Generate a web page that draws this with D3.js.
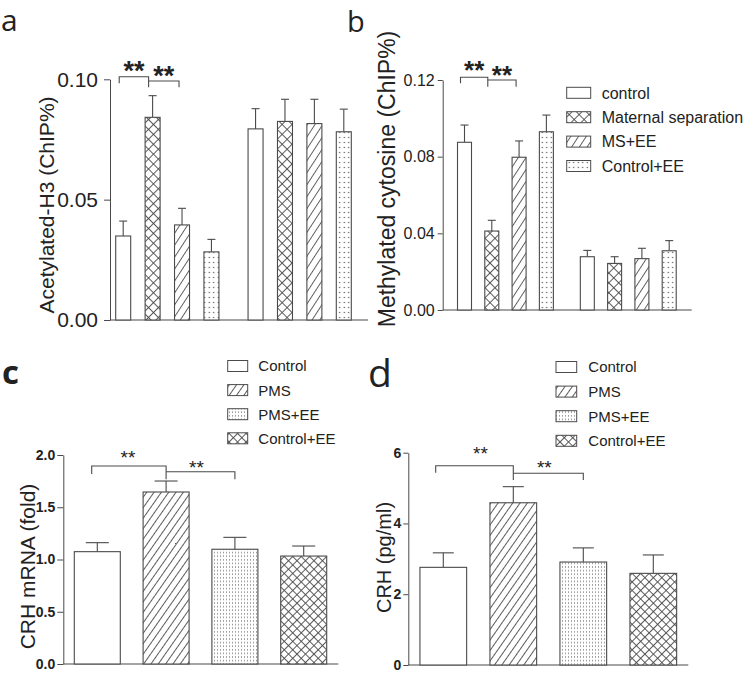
<!DOCTYPE html>
<html><head><meta charset="utf-8">
<script src="https://cdn.jsdelivr.net/npm/d3@7/dist/d3.min.js"></script>
<style>
html,body{margin:0;padding:0;background:#fff;}
svg text{font-family:"Liberation Sans",Arial,sans-serif;fill:#222;}
</style></head>
<body>
<script>
// ---------- DATA ----------
const groupsAB = ["control", "Maternal separation", "MS+EE", "Control+EE"];
const patternsAB = ["none", "cross", "hatch", "dots"];
const acetylMean = [0.0349, 0.0842, 0.0395, 0.0283, 0.0794, 0.0825, 0.0816, 0.0782];
const acetylErr  = [0.0062, 0.0090, 0.0069, 0.0052, 0.0084, 0.0092, 0.0101, 0.0094];
const methylMean = [0.0875, 0.0412, 0.0797, 0.0930, 0.0278, 0.0243, 0.0268, 0.0309];
const methylErr  = [0.0090, 0.0056, 0.0085, 0.0087, 0.0033, 0.0035, 0.0054, 0.0053];
const barSlotsAB = [0, 1, 2, 3, 4.5, 5.5, 6.5, 7.5];

const groupsCD = ["Control", "PMS", "PMS+EE", "Control+EE"];
const patternsCD = ["none", "hatch", "dots", "cross"];
const mrnaMean = [1.075, 1.646, 1.098, 1.033];
const mrnaErr  = [0.086, 0.105, 0.114, 0.096];
const crhMean  = [2.76, 4.585, 2.91, 2.59];
const crhErr   = [0.41, 0.455, 0.40, 0.52];
const barSlotsCD = [0, 1, 2, 3];

const ticksA = [0, 0.05, 0.10];
const ticksB = [0, 0.04, 0.08, 0.12];
const ticksC = [0, 0.5, 1.0, 1.5, 2.0];
const ticksD = [0, 2, 4, 6];

const sigLabel = "**";

// ---------- SVG ----------
const svg = d3.select("body").append("svg").attr("width", 748).attr("height", 677);
const defs = svg.append("defs");
const INK = "#4a4a4a";

function makePatterns(id, o) {
  const h = defs.append("pattern").attr("id", "hatch-" + id).attr("patternUnits", "userSpaceOnUse")
    .attr("width", o.hs).attr("height", 40).attr("patternTransform", `rotate(${o.ha})`);
  h.append("rect").attr("width", o.hs).attr("height", 40).attr("fill", "#fff");
  h.append("line").attr("x1", 0.5).attr("x2", 0.5).attr("y1", 0).attr("y2", 40)
    .attr("stroke", INK).attr("stroke-width", o.lw);
  const c = defs.append("pattern").attr("id", "cross-" + id).attr("patternUnits", "userSpaceOnUse")
    .attr("width", o.cs).attr("height", o.cs).attr("patternTransform", "rotate(45)");
  c.append("rect").attr("width", o.cs).attr("height", o.cs).attr("fill", "#fff");
  c.append("line").attr("x1", 0).attr("x2", o.cs).attr("y1", 0.5).attr("y2", 0.5).attr("stroke", INK).attr("stroke-width", o.lw);
  c.append("line").attr("x1", 0.5).attr("x2", 0.5).attr("y1", 0).attr("y2", o.cs).attr("stroke", INK).attr("stroke-width", o.lw);
  const d = defs.append("pattern").attr("id", "dots-" + id).attr("patternUnits", "userSpaceOnUse")
    .attr("width", o.dx).attr("height", o.dy);
  d.append("rect").attr("width", o.dx).attr("height", o.dy).attr("fill", "#fff");
  d.append("rect").attr("x", o.dx / 2 - o.dr / 2).attr("y", o.dy / 2 - o.dr / 2).attr("width", o.dr).attr("height", o.dr).attr("fill", "#555");
}
makePatterns("ab", {hs: 6.5, ha: 33, cs: 7, lw: 0.9, dx: 4.5, dy: 5, dr: 1.2});
makePatterns("cd", {hs: 6, ha: 35, cs: 6, lw: 0.9, dx: 3, dy: 3.6, dr: 1.0});

function fillFor(p, id) { return p === "none" ? "#fff" : `url(#${p}-${id})`; }

function drawPanel(o) {
  const g = svg.append("g");
  const y = d3.scaleLinear().domain(o.yDomain).range(o.yRange);
  const x = d3.scaleLinear().domain([0, d3.max(o.slots)]).range(o.xRange);

  const ax = g.append("g").attr("transform", `translate(${o.axisX},0)`)
    .call(d3.axisLeft(y).tickValues(o.ticks).tickFormat(d3.format(o.fmt)).tickSize(o.tickLen).tickSizeOuter(0).tickPadding(o.tickPad));
  ax.select(".domain").attr("stroke", INK).attr("stroke-width", 1);
  ax.selectAll(".tick line").attr("stroke", INK).attr("stroke-width", 1);
  ax.selectAll(".tick text").attr("font-size", o.tickFont).attr("font-weight", o.tickWeight)
    .attr("font-family", '"Liberation Sans",Arial,sans-serif').attr("fill", "#222");
  g.append("line").attr("x1", o.axisX).attr("x2", o.axisEnd).attr("y1", y(0)).attr("y2", y(0))
    .attr("stroke", INK).attr("stroke-width", 1.2);

  g.append("text").attr("transform", `translate(${o.labX},${o.labY}) rotate(-90)`)
    .attr("text-anchor", "middle").attr("font-size", o.labFont).text(o.yLabel);

  const bars = o.means.map((m, i) => ({m, e: o.errs[i], s: o.slots[i], p: o.patterns[i % o.patterns.length]}));
  bars.forEach(b => {
    const cx = x(b.s);
    g.append("line").attr("x1", cx).attr("x2", cx).attr("y1", y(b.m)).attr("y2", y(b.m + b.e))
      .attr("stroke", INK).attr("stroke-width", 1.1);
    g.append("line").attr("x1", cx - o.capW / 2).attr("x2", cx + o.capW / 2).attr("y1", y(b.m + b.e)).attr("y2", y(b.m + b.e))
      .attr("stroke", INK).attr("stroke-width", 1.1);
  });
  g.selectAll("rect.bar").data(bars).enter().append("rect").attr("class", "bar")
    .attr("x", d => x(d.s) - o.barW / 2).attr("width", o.barW)
    .attr("y", d => y(d.m)).attr("height", d => y(0) - y(d.m))
    .attr("fill", d => fillFor(d.p, o.pid)).attr("stroke", INK).attr("stroke-width", 1.1);

  const bk = o.bracket;
  const xa = x(o.slots[0]) + bk.off[0], xb = x(o.slots[1]) + bk.off[1], xc = x(o.slots[2]) + bk.off[2];
  g.append("path").attr("fill", "none").attr("stroke", INK).attr("stroke-width", 1.1)
    .attr("d", `M${xa},${bk.y1 + bk.drop1}V${bk.y1}H${xb}V${bk.y2 + bk.drop2}`);
  g.append("path").attr("fill", "none").attr("stroke", INK).attr("stroke-width", 1.1)
    .attr("d", `M${xb},${bk.y2}H${xc}V${bk.y2 + bk.drop2}`);
  g.append("text").attr("x", (xa + xb) / 2 + bk.s1dx).attr("y", bk.s1y).attr("text-anchor", "middle")
    .attr("font-size", bk.sFont).attr("font-weight", bk.sWeight).text(sigLabel);
  g.append("text").attr("x", (xb + xc) / 2 + bk.s2dx).attr("y", bk.s2y).attr("text-anchor", "middle")
    .attr("font-size", bk.sFont).attr("font-weight", bk.sWeight).text(sigLabel);

  if (o.legend) {
    const L = o.legend;
    o.groups.forEach((name, i) => {
      const cy = L.y0 + i * L.dy;
      g.append("rect").attr("x", L.x).attr("y", cy - L.bh / 2).attr("width", L.bw).attr("height", L.bh)
        .attr("fill", fillFor(o.patterns[i], o.pid)).attr("stroke", INK).attr("stroke-width", 1);
      g.append("text").attr("x", L.tx).attr("y", cy + L.font * 0.36).attr("font-size", L.font).text(name);
    });
  }
  g.append("text").attr("x", o.letter.x).attr("y", o.letter.y).attr("font-size", o.letter.size)
    .attr("font-weight", o.letter.w).style("font-family", '"Open Sans",sans-serif').attr("fill", "#111").text(o.letter.t);
}

// Panel a
drawPanel({
  pid: "ab", yDomain: [0, 0.10], yRange: [320, 79.3], xRange: [123.2, 343.8], slots: barSlotsAB,
  axisX: 110, axisEnd: 368, ticks: ticksA, fmt: ".2f", tickLen: 6, tickPad: 6, tickFont: 21, tickWeight: 400,
  yLabel: "Acetylated-H3 (ChIP%)", labX: 54, labY: 205, labFont: 21,
  means: acetylMean, errs: acetylErr, patterns: patternsAB, barW: 15, capW: 8,
  bracket: {off: [-4, -4, -3], y1: 76.7, y2: 81, drop1: 6.6, drop2: 6.3, s1y: 80, s2y: 85, s1dx: 0, s2dx: 0, sFont: 27, sWeight: 700},
  letter: {t: "a", x: 1, y: 31, size: 30, w: 400}
});
// Panel b
drawPanel({
  pid: "ab", yDomain: [0, 0.12], yRange: [310, 80], xRange: [464.5, 669.2], slots: barSlotsAB,
  axisX: 442.7, axisEnd: 691.7, ticks: ticksB, fmt: ".2f", tickLen: 5, tickPad: 3, tickFont: 16, tickWeight: 400,
  yLabel: "Methylated cytosine (ChIP%)", labX: 395, labY: 179, labFont: 23,
  means: methylMean, errs: methylErr, patterns: patternsAB, barW: 14, capW: 8,
  bracket: {off: [-4, -4, -3], y1: 77.3, y2: 80, drop1: 6, drop2: 6.7, s1y: 79, s2y: 84, s1dx: 0, s2dx: 0, sFont: 26, sWeight: 700},
  groups: groupsAB,
  legend: {x: 566.7, tx: 601.7, y0: 92.8, dy: 24.4, bw: 24, bh: 11, font: 16},
  letter: {t: "b", x: 347, y: 32, size: 29, w: 400}
});
// Panel c
drawPanel({
  pid: "cd", yDomain: [0, 2], yRange: [664, 455], xRange: [97.3, 303.7], slots: barSlotsCD,
  axisX: 63.3, axisEnd: 338.3, ticks: ticksC, fmt: ".1f", tickLen: 6, tickPad: 2, tickFont: 14, tickWeight: 700,
  yLabel: "CRH mRNA (fold)", labX: 35, labY: 566.5, labFont: 21,
  means: mrnaMean, errs: mrnaErr, patterns: patternsCD, barW: 46, capW: 23,
  bracket: {off: [-5.6, 0, 0], y1: 466, y2: 471.7, drop1: 8, drop2: 7.5, s1y: 464, s2y: 474, s1dx: -1, s2dx: -4, sFont: 19, sWeight: 400},
  groups: groupsCD,
  legend: {x: 227.7, tx: 258.3, y0: 366, dy: 24.1, bw: 20, bh: 11, font: 15},
  letter: {t: "c", x: 2, y: 384, size: 33, w: 700}
});
// Panel d
drawPanel({
  pid: "cd", yDomain: [0, 6], yRange: [665, 452.7], xRange: [443.3, 653.3], slots: barSlotsCD,
  axisX: 408.3, axisEnd: 688.3, ticks: ticksD, fmt: "d", tickLen: 5, tickPad: 2, tickFont: 14, tickWeight: 700,
  yLabel: "CRH (pg/ml)", labX: 391, labY: 557.5, labFont: 20,
  means: crhMean, errs: crhErr, patterns: patternsCD, barW: 46.7, capW: 21,
  bracket: {off: [-7.6, 0, 0], y1: 465.7, y2: 473.3, drop1: 7, drop2: 6.7, s1y: 460, s2y: 473.5, s1dx: 6, s2dx: -4, sFont: 19, sWeight: 400},
  groups: groupsCD,
  legend: {x: 556, tx: 588.3, y0: 367, dy: 24.6, bw: 20.7, bh: 11, font: 15},
  letter: {t: "d", x: 368, y: 386.7, size: 39, w: 400}
});
</script>
</body></html>
